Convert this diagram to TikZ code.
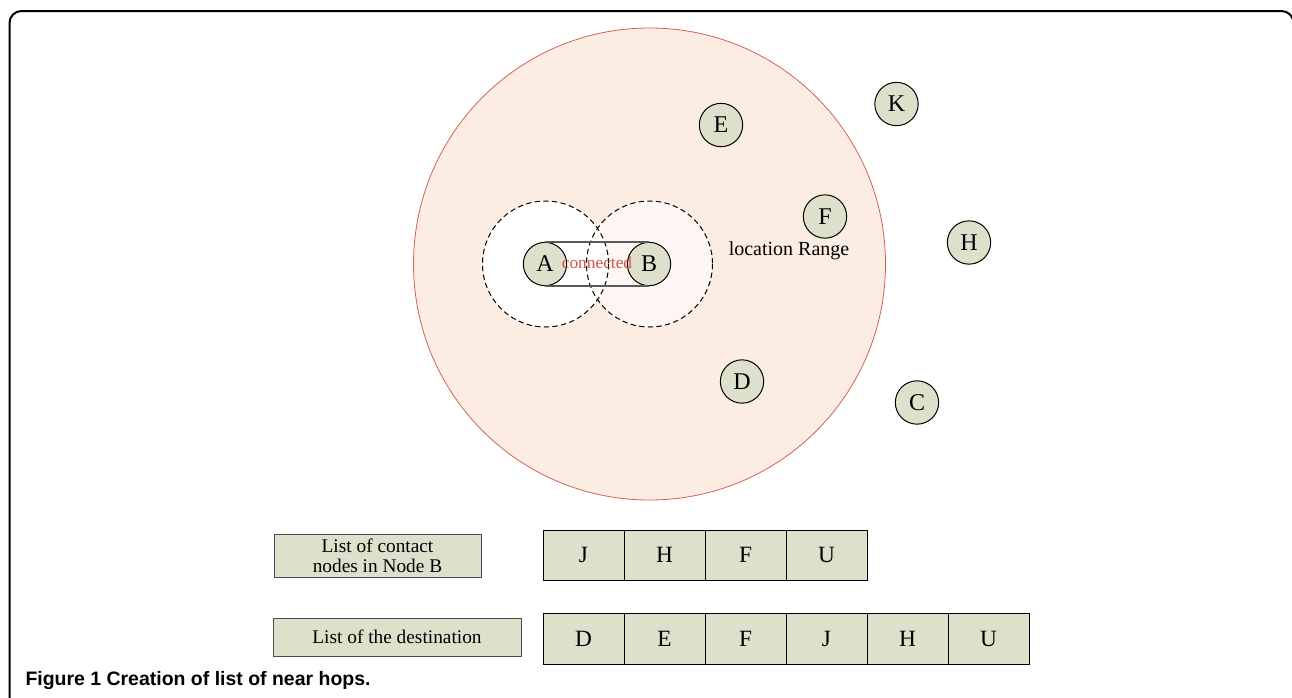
\documentclass[tikz,border=0pt]{standalone}
\usepackage{fontspec}
\setmainfont{Liberation Serif}
\newfontfamily\capfont{Liberation Sans}
\usetikzlibrary{positioning}

\definecolor{rangefill}{RGB}{252,237,226}
\definecolor{rangeline}{RGB}{212,96,86}
\definecolor{nodefill}{RGB}{221,225,204}
\definecolor{linkred}{RGB}{208,84,74}
\definecolor{reachfill}{RGB}{254,246,242}

\tikzset{every picture/.style={line width=0.75pt}}
\tikzset{
  hop/.style={circle,draw,fill=nodefill,minimum size=32.5pt,inner sep=0pt,font=\fontsize{18}{20}\selectfont},
  cell/.style={draw,fill=nodefill,minimum width=60.75pt,minimum height=37.5pt,inner sep=0pt,outer sep=0pt,font=\fontsize{17.5}{19}\selectfont},
  listlabel/.style={draw=black!70,fill=nodefill,inner sep=0pt,align=center,font=\fontsize{14.5}{15}\selectfont},
}

\begin{document}
\begin{tikzpicture}[x=0.75pt,y=0.75pt,yscale=-1,xscale=1]
\useasboundingbox (0,0) rectangle (1292,697);

%Frame
\draw [line width=1.5pt,rounded corners=9] (9.5,730) -- (9.5,11) -- (1293.5,11) -- (1293.5,730) ;

%Shape: Circle (location range)
\draw [color=rangeline,fill=rangefill,line width=0.6pt] (649.5,264) circle [radius=236] ;
%Shape: Circle (reach of B, then A)
\fill [reachfill] (649.5,264) circle [radius=63] ;
\fill [white] (545.5,264) circle [radius=63] ;
\draw [dashed,dash pattern=on 4pt off 2.5pt] (545.5,264) circle [radius=63] ;
\draw [dashed,dash pattern=on 4pt off 2.5pt] (649.5,264) circle [radius=63] ;

% Hop Nodes
\draw (545,264) node [hop] (A) {A};
\draw (649,264) node [hop] (B) {B};
\draw (721,125) node [hop] (E) {E};
\draw (825,216.5) node [hop] (F) {F};
\draw (742,381.5) node [hop] (D) {D};
\draw (896.5,104) node [hop] (K) {K};
\draw (969,242.5) node [hop] (H) {H};
\draw (917,402.5) node [hop] (C) {C};

%Straight Lines (link A-B)
\draw [color=black!65,line width=1.2pt] (A.north) -- (B.north) ;
\draw [color=black!65,line width=1.2pt] (A.south) -- (B.south) ;

% Text Node
\draw (597,263) node [text=linkred,inner sep=0pt,font=\fontsize{13}{14}\selectfont] (link) {connected};
% Text Node
\draw (789,251) node [inner sep=0pt,font=\fontsize{15}{16}\selectfont] (range) {location Range};

% List Labels
\draw (377.5,555.5) node [listlabel,minimum width=155.25pt,minimum height=32.25pt] (contacts) {List of contact\\nodes in Node B};
\draw (397,637) node [listlabel,minimum width=186pt,minimum height=28.5pt] (dest) {List of the destination};

% Contact List of Node B
\draw (583.5,555) node [cell] (c1) {J};
\node [cell,right=0pt of c1] (c2) {H};
\node [cell,right=0pt of c2] (c3) {F};
\node [cell,right=0pt of c3] (c4) {U};

% Destination List
\draw (583.5,638.5) node [cell,minimum height=38.25pt] (d1) {D};
\node [cell,minimum height=38.25pt,right=0pt of d1] (d2) {E};
\node [cell,minimum height=38.25pt,right=0pt of d2] (d3) {F};
\node [cell,minimum height=38.25pt,right=0pt of d3] (d4) {J};
\node [cell,minimum height=38.25pt,right=0pt of d4] (d5) {H};
\node [cell,minimum height=38.25pt,right=0pt of d5] (d6) {U};

% Caption
\draw (25,685) node [anchor=base west,inner sep=0pt,font=\capfont\bfseries\fontsize{14.6}{16}\selectfont] (caption) {Figure 1 Creation of list of near hops.};

\end{tikzpicture}
\end{document}
